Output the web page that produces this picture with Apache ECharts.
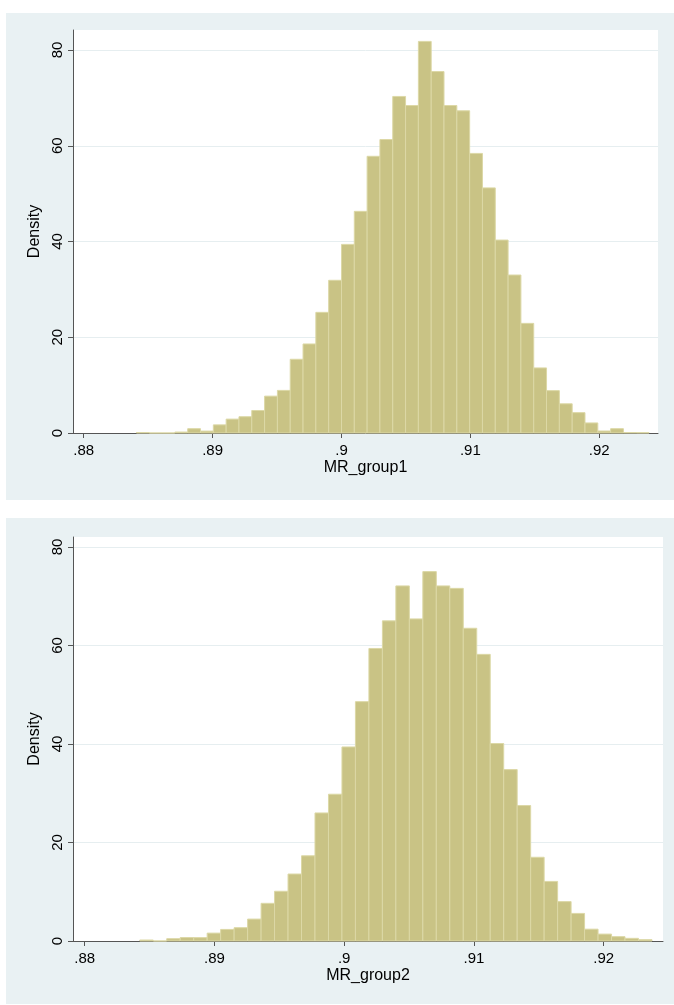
<!DOCTYPE html>
<html>
<head>
<meta charset="utf-8">
<script src="https://cdn.jsdelivr.net/npm/echarts@6/dist/echarts.min.js"></script>
<style>
html,body{margin:0;padding:0;background:#fff;}
#chart{width:674px;height:1005px;}
</style>
</head>
<body>
<div id="chart"></div>
<script>
// ---- Data ----
const binStart1 = 0.884091;
const binWidth1 = 0.0009944;
const density1 = [
  0.1, 0, 0, 0.2, 0.9, 0.4, 1.7, 2.9, 3.4, 4.7,
  7.7, 8.9, 15.4, 18.6, 25.2, 31.9, 39.4, 46.3, 57.8, 61.3,
  70.3, 68.4, 81.8, 75.5, 68.4, 67.3, 58.4, 51.2, 40.3, 33.0,
  22.9, 13.6, 8.85, 6.1, 4.25, 2.1, 0.42, 0.9, 0.1, 0.07
];
const binStart2 = 0.884244;
const binWidth2 = 0.001039;
const density2 = [
  0.2, 0, 0.47, 0.7, 0.68, 1.6, 2.35, 2.7, 4.45, 7.65,
  10.1, 13.6, 17.3, 26.0, 29.8, 39.4, 48.6, 59.4, 65.0, 72.1,
  65.4, 75.0, 72.1, 71.6, 63.5, 58.2, 40.1, 34.8, 27.5, 17.0,
  12.1, 8.0, 5.6, 2.4, 1.4, 0.88, 0.54, 0.27
];
const xTickValues = [0.88, 0.89, 0.90, 0.91, 0.92];
const xTickLabels = ['.88', '.89', '.9', '.91', '.92'];
const yTickValues = [0, 20, 40, 60, 80];
const xNames = ['MR_group1', 'MR_group2'];
const yName = 'Density';

// ---- Build chart ----
function bins(start, width, dens) {
  return dens.map((d, i) => [start + i * width, start + (i + 1) * width, d]);
}
const FILL = '#c9c385';
const STROKE = '#dcd8a6';
const BG = '#e9f1f3';
const GRID = '#e6eef0';
const AXIS = '#555';
const FONT = 'Liberation Sans, Arial, Helvetica, sans-serif';

function renderItem(params, api) {
  const p0 = api.coord([api.value(0), api.value(2)]);
  const p1 = api.coord([api.value(1), 0]);
  return {
    type: 'rect',
    shape: { x: p0[0], y: p0[1], width: p1[0] - p0[0], height: p1[1] - p0[1] },
    style: { fill: FILL, stroke: STROKE, lineWidth: 1 }
  };
}
function xLabel(v) {
  for (let i = 0; i < xTickValues.length; i++) {
    if (Math.abs(v - xTickValues[i]) < 1e-9) return xTickLabels[i];
  }
  return '';
}
function makeX(gridIndex, min, max) {
  return {
    type: 'value', gridIndex, min, max,
    name: xNames[gridIndex], nameLocation: 'middle', nameGap: 27,
    nameTextStyle: { color: '#000', fontSize: 16, fontFamily: FONT },
    axisLine: { show: true, onZero: false, lineStyle: { color: AXIS, width: 1 } },
    axisTick: { show: true, length: 5, customValues: xTickValues, lineStyle: { color: AXIS } },
    axisLabel: { customValues: xTickValues, formatter: xLabel, color: '#000', fontSize: 15, fontFamily: FONT, margin: 10 },
    splitLine: { show: false }
  };
}
function makeY(gridIndex, max) {
  return {
    type: 'value', gridIndex, min: 0, max,
    name: yName, nameLocation: 'middle', nameGap: 30,
    nameTextStyle: { color: '#000', fontSize: 16, fontFamily: FONT },
    axisLine: { show: true, lineStyle: { color: AXIS, width: 1 } },
    axisTick: { show: true, length: 5, customValues: yTickValues, lineStyle: { color: AXIS } },
    axisLabel: { customValues: yTickValues, rotate: 90, color: '#000', fontSize: 15, fontFamily: FONT, margin: 8 },
    splitLine: { show: true, lineStyle: { color: GRID, width: 1 } }
  };
}

const chart = echarts.init(document.getElementById('chart'), null, { renderer: 'canvas' });
chart.setOption({
  backgroundColor: '#fff',
  animation: false,
  graphic: [
    { type: 'rect', z: -100, silent: true, shape: { x: 6, y: 13, width: 668, height: 487 }, style: { fill: BG } },
    { type: 'rect', z: -100, silent: true, shape: { x: 6, y: 518, width: 668, height: 486 }, style: { fill: BG } }
  ],
  grid: [
    { left: 73, top: 30, right: 16, height: 403, show: true, backgroundColor: '#fff', borderWidth: 0 },
    { left: 73, top: 537, right: 11, height: 404, show: true, backgroundColor: '#fff', borderWidth: 0 }
  ],
  xAxis: [makeX(0, 0.879169, 0.92456), makeX(1, 0.879097, 0.924576)],
  yAxis: [makeY(0, 84.18), makeY(1, 82.03)],
  series: [
    { type: 'custom', xAxisIndex: 0, yAxisIndex: 0, renderItem, encode: { x: [0, 1], y: 2 }, data: bins(binStart1, binWidth1, density1) },
    { type: 'custom', xAxisIndex: 1, yAxisIndex: 1, renderItem, encode: { x: [0, 1], y: 2 }, data: bins(binStart2, binWidth2, density2) }
  ]
});
</script>
</body>
</html>
